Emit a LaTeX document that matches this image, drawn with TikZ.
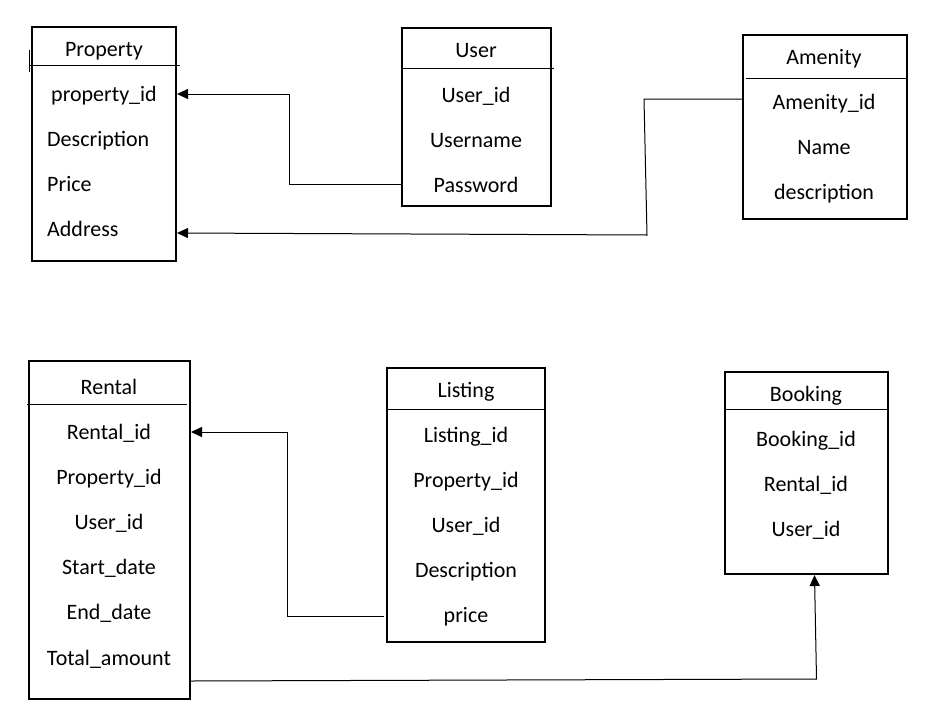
\documentclass[tikz,border=0pt]{standalone}
\usepackage{fontspec}
\setmainfont{Carlito}
\usetikzlibrary{arrows.meta}
\begin{document}
\begin{tikzpicture}[x=1pt,y=-1pt,
 tbl/.style={draw,line width=2pt,inner sep=0pt},
 fld/.style={inner sep=0pt,font=\fontsize{22}{26}\selectfont,text height=15pt,text depth=5pt},
 hdr/.style={line width=1pt},
 conn/.style={line width=1pt},
 arr/.style={conn,-{Triangle[length=11pt,width=10pt]}}]
\useasboundingbox (0,0) rectangle (937,718);
% tables
\node[tbl,minimum width=144pt,minimum height=234pt] (prop) at (104,144) {};
\node[tbl,minimum width=149pt,minimum height=178pt] (user) at (476.5,117) {};
\node[tbl,minimum width=164pt,minimum height=184pt] (amen) at (825,127) {};
\node[tbl,minimum width=161pt,minimum height=338pt] (rent) at (109.5,530) {};
\node[tbl,minimum width=158pt,minimum height=274pt] (list) at (466,505) {};
\node[tbl,minimum width=163pt,minimum height=202pt] (book) at (806.5,473) {};
% header rules
\draw[hdr] (29,65) -- (180,65);
\draw[hdr] (29,50) -- (29,72);
\draw[hdr] (402,68) -- (554,68);
\draw[hdr] (746,78) -- (907,78);
\draw[hdr] (27,404) -- (187,404);
\draw[hdr] (387,409) -- (545,409);
\draw[hdr] (725,409) -- (888,409);
% Property
\node[fld] (ptitle) at (104,51) {Property};
\node[fld] (ppid) at (104,96) {property\_id};
\node[fld,anchor=west] (pdesc) at (47,141) {Description};
\node[fld,anchor=west] (pprice) at (47,186) {Price};
\node[fld,anchor=west] (paddr) at (47,231) {Address};
% User
\node[fld] (utitle) at (476,52) {User};
\node[fld] (uid) at (476,97) {User\_id};
\node[fld] (uname) at (476,142) {Username};
\node[fld] (upw) at (476,187) {Password};
% Amenity
\node[fld] (atitle) at (824,59) {Amenity};
\node[fld] (aid) at (824,104) {Amenity\_id};
\node[fld] (aname) at (824,149) {Name};
\node[fld] (adesc) at (824,194) {description};
% Rental
\node[fld] (rtitle) at (109,389) {Rental};
\node[fld] (rid) at (109,434) {Rental\_id};
\node[fld] (rpid) at (109,479) {Property\_id};
\node[fld] (ruid) at (109,524) {User\_id};
\node[fld] (rstart) at (109,569) {Start\_date};
\node[fld] (rend) at (109,614) {End\_date};
\node[fld] (rtotal) at (109,660) {Total\_amount};
% Listing
\node[fld] (ltitle) at (466,392) {Listing};
\node[fld] (lid) at (466,437) {Listing\_id};
\node[fld] (lpid) at (466,482) {Property\_id};
\node[fld] (luid) at (466,527) {User\_id};
\node[fld] (ldesc) at (466,572) {Description};
\node[fld] (lprice) at (466,617) {price};
% Booking
\node[fld] (btitle) at (806,396) {Booking};
\node[fld] (bid) at (806,441) {Booking\_id};
\node[fld] (brid) at (806,486) {Rental\_id};
\node[fld] (buid) at (806,531) {User\_id};
% connectors
\draw[arr] ([yshift=3pt]user.west |- upw) -- ++(-112,0) |- ([yshift=2pt]prop.east |- ppid);
\draw[arr] ([yshift=5pt]amen.west |- aid) -- ++(-98,0) -- ++(3,136) -- ([yshift=-2pt]prop.east |- paddr);
\draw[arr] ([xshift=-2pt,yshift=1pt]list.west |- lprice) -- ++(-97,0) |- ([yshift=2pt]rent.east |- rid);
\draw[arr] ([yshift=-151pt]rent.east) -- ([xshift=10pt,yshift=-104pt]book.south) -- ([xshift=8pt]book.south);
\end{tikzpicture}
\end{document}
